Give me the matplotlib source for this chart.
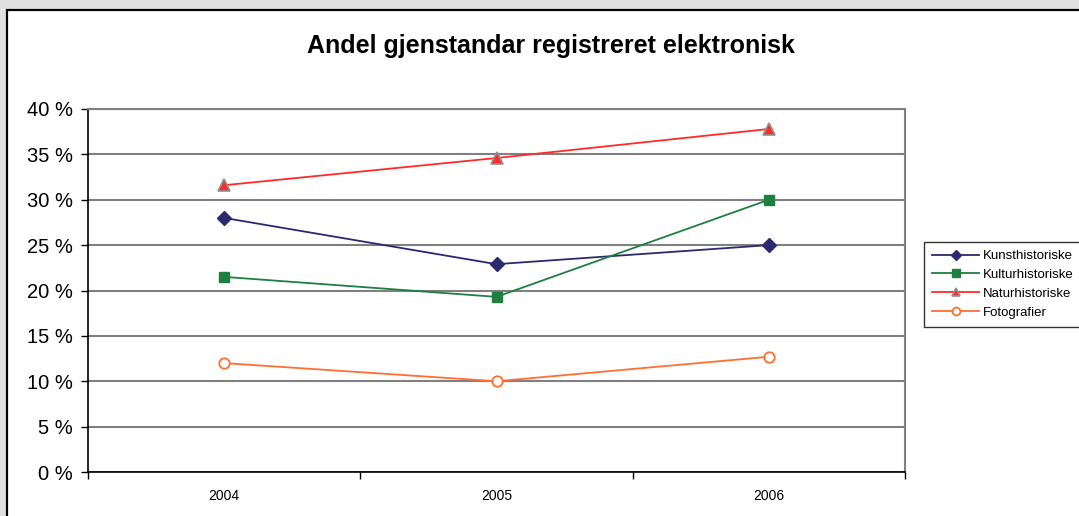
import matplotlib.pyplot as plt
from matplotlib.patches import Rectangle
from matplotlib.ticker import FixedLocator

years = ['2004', '2005', '2006']
kunst = [28.0, 22.9, 25.0]
kultur = [21.5, 19.3, 30.0]
natur = [31.6, 34.6, 37.8]
foto = [12.0, 10.0, 12.7]
y_ticks = [0, 5, 10, 15, 20, 25, 30, 35, 40]

plt.rcParams['font.family'] = ['Liberation Sans', 'DejaVu Sans']

W, H = 1079, 516
fig = plt.figure(figsize=(W / 100, H / 100), dpi=100, facecolor='#e0e0e0')

# white chart area with black frame, cut off at right/bottom
fig.patches.append(Rectangle((7 / W, -0.2), 1.2, 1 - 10 / H + 0.2, transform=fig.transFigure,
                             facecolor='white', edgecolor='black', linewidth=1.6, zorder=-1))

ax = fig.add_axes([88 / W, 1 - 472 / H, (905 - 88) / W, (472 - 109) / H])
ax.set_facecolor('white')

x = range(len(years))
series = [
    (kunst, 'Kunsthistoriske', dict(color='#2b2a6e', marker='D', markersize=7,
                                     markerfacecolor='#2b2a6e', markeredgecolor='#2b2a6e')),
    (kultur, 'Kulturhistoriske', dict(color='#1f7f40', marker='s', markersize=7.5,
                                       markerfacecolor='#1f7f40', markeredgecolor='#1f7f40')),
    (natur, 'Naturhistoriske', dict(color='#ff2a2a', marker='^', markersize=8.5,
                                     markerfacecolor='#ff2a2a', markeredgecolor='#909090',
                                     markeredgewidth=1.2)),
    (foto, 'Fotografier', dict(color='#ff6f30', marker='o', markersize=7.5,
                               markerfacecolor='white', markeredgecolor='#ff6f30',
                               markeredgewidth=1.3)),
]
handles = []
for vals, name, st in series:
    line, = ax.plot(list(x), vals, linewidth=1.3, label=name, zorder=3, **st)
    handles.append(line)

ax.set_xlim(-0.5, 2.5)
ax.set_ylim(0, 40)
ax.set_yticks(y_ticks)
ax.set_yticklabels([f'{v} %' for v in y_ticks], fontsize=14.5)
ax.yaxis.grid(True, color='#808080', linewidth=1.5)
ax.set_axisbelow(True)

ax.xaxis.set_major_locator(FixedLocator([-0.5, 0.5, 1.5, 2.5]))
ax.set_xticklabels([])
ax.xaxis.set_minor_locator(FixedLocator(list(x)))
ax.set_xticklabels(years, minor=True, fontsize=10)
ax.tick_params(axis='x', which='minor', length=0, pad=12)
ax.tick_params(axis='both', which='major', direction='out', length=5, width=1, color='black')
ax.tick_params(axis='y', which='major', pad=6)

for side in ['top', 'right']:
    ax.spines[side].set_color('#808080')
    ax.spines[side].set_linewidth(1.5)
ax.spines['left'].set_linewidth(1.2)
ax.spines['bottom'].set_linewidth(1.2)

fig.text(551 / W, 1 - 46 / H, 'Andel gjenstandar registreret elektronisk',
         ha='center', va='center', fontsize=18, fontweight='bold')

leg = fig.legend(handles=handles, loc='upper left', bbox_to_anchor=(924 / W, 1 - 242 / H),
                 fontsize=9.5, frameon=True, fancybox=False, handlelength=3.6, markerscale=0.75,
                 handletextpad=0.3, labelspacing=0.5, borderpad=0.6, borderaxespad=0)
leg.get_frame().set_edgecolor('black')
leg.get_frame().set_linewidth(1.0)

fig.savefig('out.png', dpi=100, facecolor=fig.get_facecolor())
